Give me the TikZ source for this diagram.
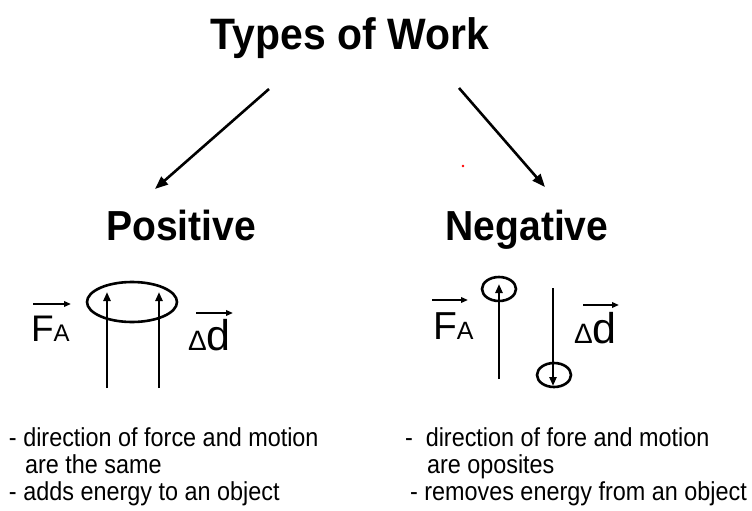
\documentclass[tikz,border=0pt]{standalone}
\usepackage{fontspec}
\usetikzlibrary{arrows.meta}
\newfontfamily\narrowsans{Liberation Sans}[FakeStretch=0.9]
\newfontfamily\headsans{Liberation Sans}[FakeStretch=0.93]
\newfontfamily\plainsans{Liberation Sans}
\newcommand{\fsz}[1]{\fontsize{#1}{#1}\selectfont}
\begin{document}
\begin{tikzpicture}[x=1pt,y=-1pt,
  txt/.style={inner sep=0pt,outer sep=0pt,anchor=base west},
  head/.style={inner sep=0pt,anchor=base,font=\headsans\bfseries\fsz{42}},
  note/.style={txt,font=\narrowsans\fsz{26}},
  branch/.style={line width=2.6pt,-{Triangle[length=13pt,width=10pt]}},
  motion/.style={line width=2.6pt,-{Triangle[length=9pt,width=7pt]}},
  vec/.style={line width=1.8pt,-{Triangle[length=7pt,width=5.5pt]}},
  loop/.style={line width=2.6pt}]
\useasboundingbox (0,0) rectangle (752,511);

% title and the two branches
\node[head,font=\headsans\bfseries\fsz{44}] (title) at (350,50) {Types of Work};
\node[head] (pos) at (181,240) {Positive};
\node[head] (neg) at (527,240) {Negative};
\coordinate (tl) at (269,89);
\coordinate (tr) at (459,88);
\coordinate (pl) at (155,189);
\coordinate (nr) at (545,187);
\draw[branch] (tl) -- (pl);
\draw[branch] (tr) -- (nr);
\fill[red] (463,166) circle (1.4);

% positive work: force and displacement in the same direction
\node[txt,font=\plainsans\fsz{37}] (pF) at (31,341) {F};
\node[txt,font=\plainsans\fsz{24}] (pA) at (pF.base east) {A};
\coordinate (pFa) at (33,304);
\coordinate (pFb) at (71,304);
\draw[vec] (pFa) -- (pFb);
\draw[loop] (132,302) ellipse (45 and 20);
\coordinate (pa1) at (107,388);
\coordinate (pb1) at (107,292);
\coordinate (pa2) at (159,388);
\coordinate (pb2) at (159,292);
\draw[motion] (pa1) -- (pb1);
\draw[motion] (pa2) -- (pb2);
\node[txt,font=\plainsans\fsz{28}] (pD) at (188,350) {Δ};
\node[txt,font=\plainsans\fsz{43}] (pd) at (pD.base east) {d};
\coordinate (pda) at (196,313);
\coordinate (pdb) at (233,313);
\draw[vec] (pda) -- (pdb);

% negative work: force and displacement opposite
\node[txt,font=\plainsans\fsz{39}] (nF) at (433,339) {F};
\node[txt,font=\plainsans\fsz{25}] (nA) at (nF.base east) {A};
\coordinate (nFa) at (432,300);
\coordinate (nFb) at (468,300);
\draw[vec] (nFa) -- (nFb);
\coordinate (na1) at (499,379);
\coordinate (nb1) at (499,284);
\draw[motion] (na1) -- (nb1);
\draw[loop] (499,289) ellipse (17 and 12);
\coordinate (na2) at (553,288);
\coordinate (nb2) at (553,386);
\draw[motion] (na2) -- (nb2);
\draw[loop] (554,375) ellipse (17 and 12);
\node[txt,font=\plainsans\fsz{28}] (nD) at (574,343) {Δ};
\node[txt,font=\plainsans\fsz{43}] (nd) at (nD.base east) {d};
\coordinate (nda) at (583,305);
\coordinate (ndb) at (619,305);
\draw[vec] (nda) -- (ndb);

% descriptions
\node[note] (l1) at (9,446) {- direction of force and motion};
\node[note] (l2) at (25,473) {are the same};
\node[note] (l3) at (9,500) {- adds energy to an object};
\node[note] (r1) at (405,446) {-\ \ direction of fore and motion};
\node[note] (r2) at (427,473) {are oposites};
\node[note] (r3) at (410,500) {- removes energy from an object};
\end{tikzpicture}
\end{document}
